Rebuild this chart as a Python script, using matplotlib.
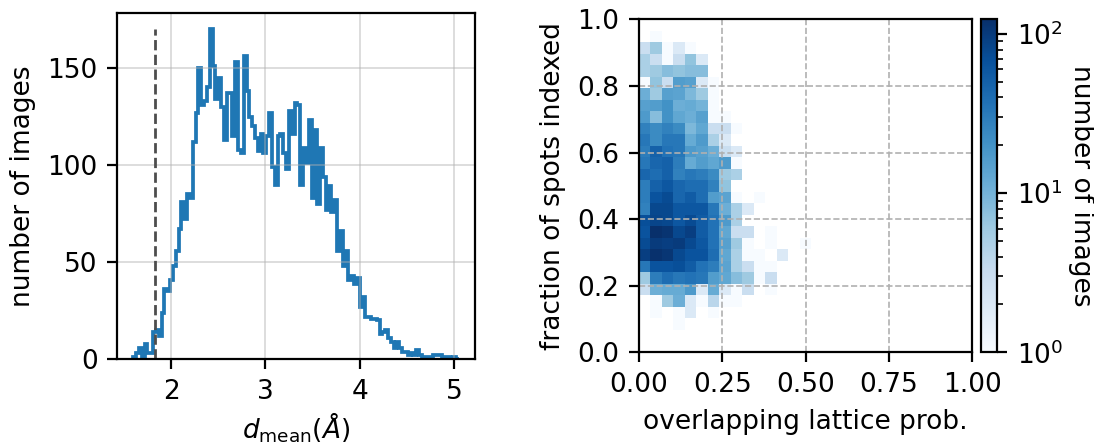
import numpy as np
import matplotlib
matplotlib.use('Agg')
import matplotlib.pyplot as plt
from matplotlib.colors import LogNorm

# left panel: histogram of d_mean, bins of 0.03 starting at 1.6
d_start = 1.6
d_width = 0.03
d_counts = [1, 3, 6, 1, 8, 3, 3, 14, 15, 12,
            24, 36, 35, 41, 48, 56, 67, 81, 72, 85,
            83, 112, 127, 150, 131, 133, 140, 170, 151, 134,
            145, 130, 113, 137, 137, 115, 153, 108, 106, 156,
            138, 125, 120, 114, 107, 116, 106, 115, 127, 99,
            90, 115, 116, 106, 98, 128, 116, 132, 131, 90,
            109, 101, 123, 83, 118, 80, 109, 94, 77, 89,
            76, 82, 56, 66, 48, 56, 41, 43, 39, 42,
            27, 32, 22, 22, 21, 21, 20, 13, 14, 15,
            11, 9, 6, 9, 6, 4, 4, 2, 3, 2,
            5, 2, 1, 1, 1, 1, 2, 2, 2, 1,
            1, 1, 0, 1, 0]
d_cutoff = 1.83

# right panel: 2D histogram, 15 x-bins and 26 y-bins of width 0.0345
prob_bin = 0.0345
prob_min = 0.0
frac_min = 0.068
# rows listed from the top (high fraction) to the bottom
counts_2d = [
    [0, 1, 0, 0, 0, 0, 0, 0, 0, 0, 0, 0, 0, 0, 0],
    [3, 6, 1, 2, 1, 0, 0, 0, 0, 0, 0, 0, 0, 0, 0],
    [5, 3, 1, 3, 7, 2, 0, 0, 0, 0, 0, 0, 0, 0, 0],
    [5, 6, 8, 7, 8, 8, 0, 0, 0, 0, 0, 0, 0, 0, 0],
    [1, 7, 3, 16, 15, 2, 1, 0, 0, 0, 0, 0, 0, 0, 0],
    [11, 6, 15, 14, 9, 6, 1, 0, 0, 0, 0, 0, 0, 0, 0],
    [15, 16, 20, 11, 12, 10, 1, 0, 0, 0, 0, 0, 0, 0, 0],
    [17, 8, 20, 13, 11, 15, 1, 1, 0, 0, 0, 0, 0, 0, 0],
    [28, 23, 28, 23, 9, 13, 3, 3, 1, 0, 0, 0, 0, 0, 0],
    [33, 23, 33, 33, 12, 17, 5, 2, 0, 0, 0, 0, 0, 0, 0],
    [30, 50, 36, 33, 17, 15, 11, 3, 2, 0, 0, 0, 0, 0, 0],
    [33, 45, 50, 30, 12, 16, 13, 17, 1, 0, 0, 0, 0, 0, 0],
    [45, 40, 50, 28, 33, 30, 23, 6, 5, 0, 0, 0, 0, 0, 0],
    [30, 50, 60, 45, 40, 40, 28, 7, 0, 0, 0, 0, 0, 0, 0],
    [30, 65, 75, 45, 55, 40, 16, 14, 1, 0, 1, 0, 0, 0, 0],
    [28, 80, 80, 60, 60, 60, 33, 11, 5, 2, 0, 0, 0, 0, 0],
    [70, 85, 80, 60, 75, 55, 36, 17, 5, 0, 0, 0, 0, 0, 0],
    [65, 124, 115, 80, 95, 55, 36, 13, 3, 3, 0, 1, 0, 0, 0],
    [75, 100, 95, 100, 78, 60, 36, 15, 6, 1, 0, 1, 0, 0, 1],
    [95, 120, 110, 78, 65, 65, 40, 13, 5, 1, 1, 0, 2, 0, 0],
    [33, 65, 65, 70, 55, 36, 30, 14, 5, 3, 1, 1, 0, 0, 0],
    [6, 30, 40, 33, 36, 33, 16, 13, 8, 6, 1, 3, 0, 0, 0],
    [3, 11, 12, 12, 17, 2, 12, 2, 1, 3, 0, 1, 0, 0, 0],
    [0, 1, 6, 11, 2, 1, 4, 1, 1, 0, 0, 0, 0, 0, 0],
    [0, 1, 0, 1, 2, 0, 1, 0, 0, 0, 0, 0, 0, 0, 0],
    [0, 0, 0, 1, 0, 0, 0, 0, 0, 0, 0, 0, 0, 0, 0],
]

plt.rcParams['font.size'] = 9.5

fig = plt.figure(figsize=(5.47, 2.225), dpi=200)

# --- left: d_mean histogram
ax1 = fig.add_axes([0.107, 0.1926, 0.3272, 0.779])
edges = d_start + d_width * np.arange(len(d_counts) + 1)
ax1.stairs(d_counts, edges, color='tab:blue', lw=1.35)
ax1.vlines(d_cutoff, 0, max(d_counts), colors='0.3', linestyles='--', lw=1)
ax1.set_xlim(edges[0] - 0.05 * (edges[-1] - edges[0]),
             edges[-1] + 0.05 * (edges[-1] - edges[0]))
ax1.set_ylim(0, max(d_counts) * 1.05)
ax1.set_xticks([2, 3, 4, 5])
ax1.set_yticks([0, 50, 100, 150])
ax1.grid(color='#b0b0b0', alpha=0.5, lw=0.6)
ax1.set_xlabel(r'$d_{\mathrm{mean}}(Å)$', labelpad=2)
ax1.set_ylabel('number of images')

# --- right: overlap prob vs indexed fraction
ax2 = fig.add_axes([0.5841, 0.2083, 0.3044, 0.7483])
cax = fig.add_axes([0.8964, 0.2083, 0.0152, 0.7483])
grid = np.flipud(np.array(counts_2d))
xe = prob_min + prob_bin * np.arange(grid.shape[1] + 1)
ye = frac_min + prob_bin * np.arange(grid.shape[0] + 1)
mesh = ax2.pcolormesh(xe, ye, np.ma.masked_equal(grid, 0), cmap='Blues',
                      norm=LogNorm(vmin=1, vmax=grid.max()))
ax2.set_xlim(0, 1)
ax2.set_ylim(0, 1)
ax2.set_xticks([0, 0.25, 0.5, 0.75, 1.0])
ax2.set_yticks([0, 0.2, 0.4, 0.6, 0.8, 1.0])
ax2.xaxis.set_major_formatter('{x:.2f}')
ax2.yaxis.set_major_formatter('{x:.1f}')
ax2.grid(color='#b0b0b0', ls='--', lw=0.6)
ax2.set_xlabel('overlapping lattice prob.')
ax2.set_ylabel('fraction of spots indexed')

cb = fig.colorbar(mesh, cax=cax)
cb.set_label('number of images', rotation=270, labelpad=11)

fig.savefig('out.png', dpi=200)
